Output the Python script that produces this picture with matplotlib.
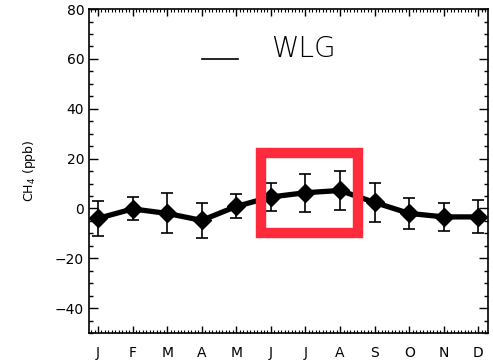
import numpy as np
import matplotlib.pyplot as plt
from matplotlib.ticker import MultipleLocator
from matplotlib.patches import Rectangle

months = ['J', 'F', 'M', 'A', 'M', 'J', 'J', 'A', 'S', 'O', 'N', 'D']
month_num = np.arange(1, 13)
ch4 = [-4.0, -0.2, -2.0, -4.8, 0.8, 4.6, 6.3, 7.2, 2.4, -2.0, -3.4, -3.4]
err = [7.0, 4.6, 8.0, 7.0, 4.8, 5.6, 7.6, 7.8, 8.0, 6.2, 5.6, 6.6]

fig = plt.figure(figsize=(4.93, 3.62), dpi=100)
ax = fig.add_axes([0.1805, 0.08, 0.8095, 0.895])

ax.errorbar(month_num, ch4, yerr=err, color='black', lw=3.8, marker='D',
            ms=9, ecolor='black', elinewidth=1.2, capsize=4, capthick=1.2)

# legend drawn by hand like the original
ax.plot([4.0, 5.05], [60, 60], color='black', lw=1.2)
ax.text(6.0, 64, 'WLG', fontsize=20, va='center', ha='left',
        fontweight='light')

# highlight box
ax.add_patch(Rectangle((5.72, -10.0), 2.79, 32.3, fill=False,
                       edgecolor='#ff2a3b', lw=7.5, zorder=5))

ax.set_xlim(0.74, 12.28)
ax.set_ylim(-50, 80)
ax.set_xticks(month_num)
ax.set_xticklabels(months)
ax.xaxis.set_minor_locator(MultipleLocator(0.1))
ax.yaxis.set_major_locator(MultipleLocator(20))
ax.yaxis.set_minor_locator(MultipleLocator(5))
ax.tick_params(axis='x', which='major', direction='in', top=True, length=5,
               width=1, labelsize=10, pad=9)
ax.tick_params(axis='x', which='minor', direction='in', top=True, length=2.5,
               width=0.8)
ax.tick_params(axis='y', which='major', direction='in', right=True, length=6.5,
               width=1, labelsize=10)
ax.tick_params(axis='y', which='minor', direction='in', right=True, length=3,
               width=1)
for s in ax.spines.values():
    s.set_linewidth(1.2)

ax.set_ylabel('CH$_4$ (ppb)', fontsize=9, labelpad=12)

plt.savefig('out.png', dpi=100)
